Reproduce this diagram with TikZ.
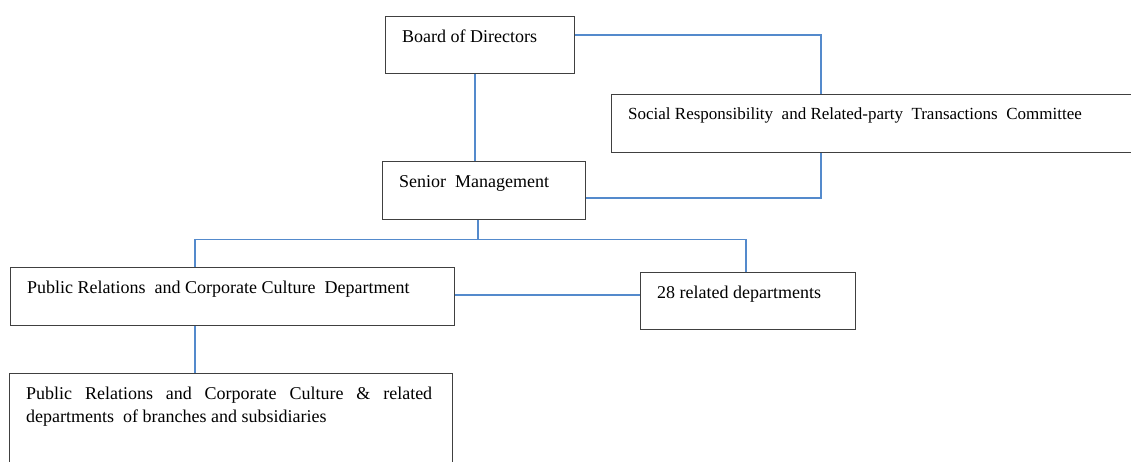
\documentclass[tikz,border=0pt]{standalone}
\usepackage{fontspec}
\setmainfont{Liberation Serif}
\usetikzlibrary{positioning,calc}
\definecolor{linkblue}{RGB}{84,138,204}
\definecolor{boxgray}{RGB}{64,64,64}

\begin{document}
\begin{tikzpicture}[x=1pt, y=-1pt,
    box/.style 2 args={draw=boxgray, line width=1.3pt, anchor=north west, inner sep=0pt, minimum width=#1, minimum height=#2},
    txt/.style={anchor=north west, inner sep=0pt, xshift=17pt, yshift=-14pt, align=left, font=\fontsize{18}{23}\selectfont},
    link/.style={draw=linkblue, line width=1.25pt}
]
\useasboundingbox (0,0) rectangle (1131,461);
\clip (0,0) rectangle (1131,461);

\node[box={189pt}{57pt}, label={[txt]north west:Board of Directors}] (board) at (385,16) {};
\node[box={560pt}{58pt}, label={[txt, font=\fontsize{17}{21}\selectfont]north west:Social Responsibility~ and Related-party~ Transactions~ Committee}] (sr) at (611,94) {};
\node[box={203pt}{58pt}, label={[txt]north west:Senior~ Management}] (senior) at (382,161) {};
\node[box={444pt}{58pt}, label={[txt]north west:Public Relations~ and Corporate Culture~ Department}] (pr) at (10,267) {};
\node[box={215pt}{57pt}, label={[txt]north west:28 related departments}] (dept) at (640,272) {};
\node[box={443pt}{120pt}, label={[txt, text width=406pt, align=justify]north west:Public Relations and Corporate Culture \& related\linebreak departments~ of branches and subsidiaries}] (sub) at (9,373) {};

\draw[link] ([yshift=-19pt]board.north east) -| ([xshift=210pt]sr.north west);
\draw[link] ([xshift=90pt]board.south west) coordinate (b1) -- (b1 |- senior.north);
\draw[link] ([xshift=210pt]sr.south west) |- ([yshift=-37pt]senior.north east);
\draw[link] ([xshift=96pt]senior.south west) -- ++(0,19) coordinate (bus);
\draw[link] ([xshift=185pt]pr.north west) |- (bus) -| ([xshift=106pt]dept.north west);
\draw[link] ([yshift=-28pt]pr.north east) coordinate (p1) -- (p1 -| dept.west);
\draw[link] ([xshift=185pt]pr.south west) coordinate (p2) -- (p2 |- sub.north);
\end{tikzpicture}
\end{document}
